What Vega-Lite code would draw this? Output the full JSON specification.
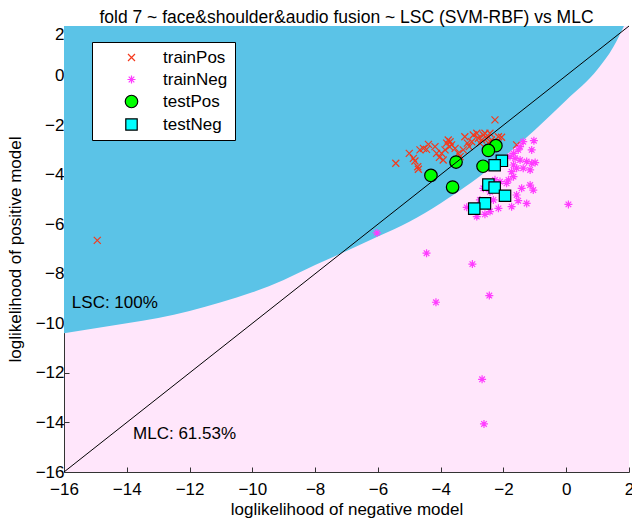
{
  "$schema": "https://vega.github.io/schema/vega-lite/v6.json",
  "width": 565,
  "height": 446,
  "autosize": {"type": "none"},
  "padding": {"left": 64, "top": 26, "right": 3, "bottom": 48},
  "title": {"text": "fold 7 ~ face&shoulder&audio fusion ~ LSC (SVM-RBF) vs MLC", "fontSize": 17.5, "fontWeight": "normal", "font": "Liberation Sans", "offset": -1, "anchor": "middle", "color": "black"},
  "config": {
    "view": {"fill": "#FFE6FB", "stroke": null},
    "font": "Liberation Sans",
    "axis": {"domainColor": "#333333", "tickColor": "#333333", "tickSize": -5, "labelFontSize": 17, "labelColor": "black", "titleFontSize": 17, "titleFontWeight": "normal", "titleColor": "black", "grid": false, "labelFont": "Liberation Sans", "titleFont": "Liberation Sans", "labelOverlap": false, "labelFlush": false},
    "axisX": {"labelPadding": 14, "titlePadding": 4},
    "axisY": {"labelPadding": 5, "titlePadding": 11},
    "legend": {"orient": "none", "legendX": 28, "legendY": 16, "fillColor": "white", "strokeColor": "black", "padding": 7, "symbolOffset": 24, "labelOffset": 23, "labelFontSize": 17, "labelFont": "Liberation Sans", "labelColor": "black", "rowPadding": 4, "symbolStrokeWidth": 1.2, "symbolOpacity": 1}
  },
  "datasets": {
    "boundary": [
      {"bx": -16, "by": -10.4}, {"bx": -15, "by": -10.2}, {"bx": -14, "by": -10.0}, {"bx": -13, "by": -9.78},
      {"bx": -12, "by": -9.5}, {"bx": -11, "by": -9.15}, {"bx": -10, "by": -8.75}, {"bx": -9, "by": -8.25},
      {"bx": -8, "by": -7.65}, {"bx": -7, "by": -7.08}, {"bx": -6, "by": -6.5}, {"bx": -5, "by": -5.9},
      {"bx": -4, "by": -5.15}, {"bx": -3, "by": -4.3}, {"bx": -2, "by": -3.3}, {"bx": -1, "by": -2.2},
      {"bx": 0, "by": -1.0}, {"bx": 1, "by": 0.25}, {"bx": 1.5, "by": 1.15}, {"bx": 1.84, "by": 2.0}
    ],
    "points": [
      {"series": "trainPos", "neg": -14.94, "pos": -6.65},
      {"series": "trainPos", "neg": -5.43, "pos": -3.54},
      {"series": "trainPos", "neg": -5.0, "pos": -3.14},
      {"series": "trainPos", "neg": -4.87, "pos": -3.34},
      {"series": "trainPos", "neg": -4.82, "pos": -3.45},
      {"series": "trainPos", "neg": -4.73, "pos": -3.68},
      {"series": "trainPos", "neg": -4.71, "pos": -3.78},
      {"series": "trainPos", "neg": -4.66, "pos": -3.0},
      {"series": "trainPos", "neg": -4.55, "pos": -2.94},
      {"series": "trainPos", "neg": -4.39, "pos": -2.78},
      {"series": "trainPos", "neg": -4.45, "pos": -2.98},
      {"series": "trainPos", "neg": -4.18, "pos": -2.87},
      {"series": "trainPos", "neg": -4.13, "pos": -3.14},
      {"series": "trainPos", "neg": -4.04, "pos": -3.3},
      {"series": "trainPos", "neg": -3.97, "pos": -3.14},
      {"series": "trainPos", "neg": -3.92, "pos": -3.41},
      {"series": "trainPos", "neg": -3.86, "pos": -3.0},
      {"series": "trainPos", "neg": -3.81, "pos": -2.73},
      {"series": "trainPos", "neg": -3.76, "pos": -2.6},
      {"series": "trainPos", "neg": -3.7, "pos": -2.67},
      {"series": "trainPos", "neg": -3.65, "pos": -2.8},
      {"series": "trainPos", "neg": -3.72, "pos": -2.87},
      {"series": "trainPos", "neg": -3.54, "pos": -2.94},
      {"series": "trainPos", "neg": -3.44, "pos": -3.14},
      {"series": "trainPos", "neg": -3.38, "pos": -3.27},
      {"series": "trainPos", "neg": -3.28, "pos": -3.0},
      {"series": "trainPos", "neg": -3.23, "pos": -2.47},
      {"series": "trainPos", "neg": -3.15, "pos": -2.73},
      {"series": "trainPos", "neg": -3.09, "pos": -2.87},
      {"series": "trainPos", "neg": -3.01, "pos": -2.67},
      {"series": "trainPos", "neg": -2.96, "pos": -2.4},
      {"series": "trainPos", "neg": -2.85, "pos": -2.33},
      {"series": "trainPos", "neg": -2.8, "pos": -2.53},
      {"series": "trainPos", "neg": -2.75, "pos": -2.73},
      {"series": "trainPos", "neg": -2.69, "pos": -2.6},
      {"series": "trainPos", "neg": -2.64, "pos": -2.4},
      {"series": "trainPos", "neg": -2.59, "pos": -2.33},
      {"series": "trainPos", "neg": -2.53, "pos": -2.53},
      {"series": "trainPos", "neg": -2.48, "pos": -2.73},
      {"series": "trainPos", "neg": -2.43, "pos": -2.33},
      {"series": "trainPos", "neg": -2.38, "pos": -2.6},
      {"series": "trainPos", "neg": -2.27, "pos": -1.79},
      {"series": "trainPos", "neg": -2.16, "pos": -2.47},
      {"series": "trainPos", "neg": -2.06, "pos": -2.49},
      {"series": "trainPos", "neg": -1.58, "pos": -2.8},
      {"series": "trainNeg", "neg": -6.03, "pos": -6.35},
      {"series": "trainNeg", "neg": -1.37, "pos": -2.67},
      {"series": "trainNeg", "neg": -1.03, "pos": -2.63},
      {"series": "trainNeg", "neg": -1.47, "pos": -2.87},
      {"series": "trainNeg", "neg": -1.1, "pos": -3.0},
      {"series": "trainNeg", "neg": -1.53, "pos": -3.0},
      {"series": "trainNeg", "neg": -1.68, "pos": -3.14},
      {"series": "trainNeg", "neg": -1.79, "pos": -3.27},
      {"series": "trainNeg", "neg": -1.63, "pos": -3.34},
      {"series": "trainNeg", "neg": -1.47, "pos": -3.41},
      {"series": "trainNeg", "neg": -1.26, "pos": -3.47},
      {"series": "trainNeg", "neg": -1.1, "pos": -3.54},
      {"series": "trainNeg", "neg": -0.99, "pos": -3.51},
      {"series": "trainNeg", "neg": -1.68, "pos": -3.61},
      {"series": "trainNeg", "neg": -1.15, "pos": -3.81},
      {"series": "trainNeg", "neg": -1.37, "pos": -3.74},
      {"series": "trainNeg", "neg": -1.58, "pos": -3.74},
      {"series": "trainNeg", "neg": -1.74, "pos": -3.88},
      {"series": "trainNeg", "neg": -1.68, "pos": -4.08},
      {"series": "trainNeg", "neg": -1.84, "pos": -4.21},
      {"series": "trainNeg", "neg": -1.9, "pos": -4.35},
      {"series": "trainNeg", "neg": -2.11, "pos": -4.28},
      {"series": "trainNeg", "neg": -2.27, "pos": -4.21},
      {"series": "trainNeg", "neg": -1.15, "pos": -4.42},
      {"series": "trainNeg", "neg": -2.64, "pos": -4.55},
      {"series": "trainNeg", "neg": -2.43, "pos": -4.69},
      {"series": "trainNeg", "neg": -2.75, "pos": -5.02},
      {"series": "trainNeg", "neg": -2.32, "pos": -5.02},
      {"series": "trainNeg", "neg": -1.58, "pos": -4.82},
      {"series": "trainNeg", "neg": -1.42, "pos": -4.55},
      {"series": "trainNeg", "neg": -1.05, "pos": -4.62},
      {"series": "trainNeg", "neg": -1.26, "pos": -5.16},
      {"series": "trainNeg", "neg": -1.53, "pos": -5.05},
      {"series": "trainNeg", "neg": -1.74, "pos": -5.29},
      {"series": "trainNeg", "neg": -2.16, "pos": -5.36},
      {"series": "trainNeg", "neg": -2.43, "pos": -5.49},
      {"series": "trainNeg", "neg": -2.59, "pos": -5.6},
      {"series": "trainNeg", "neg": -2.85, "pos": -5.69},
      {"series": "trainNeg", "neg": -3.17, "pos": -5.32},
      {"series": "trainNeg", "neg": 0.07, "pos": -5.2},
      {"series": "trainNeg", "neg": -4.45, "pos": -7.17},
      {"series": "trainNeg", "neg": -2.99, "pos": -7.61},
      {"series": "trainNeg", "neg": -2.45, "pos": -8.88},
      {"series": "trainNeg", "neg": -4.15, "pos": -9.15},
      {"series": "trainNeg", "neg": -2.68, "pos": -12.26},
      {"series": "trainNeg", "neg": -2.62, "pos": -14.06},
      {"series": "testPos", "neg": -2.24, "pos": -2.83},
      {"series": "testPos", "neg": -2.48, "pos": -3.02},
      {"series": "testPos", "neg": -3.51, "pos": -3.49},
      {"series": "testPos", "neg": -2.65, "pos": -3.66},
      {"series": "testPos", "neg": -4.31, "pos": -4.03},
      {"series": "testPos", "neg": -3.62, "pos": -4.5},
      {"series": "testNeg", "neg": -2.05, "pos": -3.44},
      {"series": "testNeg", "neg": -2.28, "pos": -3.62},
      {"series": "testNeg", "neg": -2.48, "pos": -4.4},
      {"series": "testNeg", "neg": -2.28, "pos": -4.52},
      {"series": "testNeg", "neg": -1.95, "pos": -4.85},
      {"series": "testNeg", "neg": -2.59, "pos": -5.16},
      {"series": "testNeg", "neg": -2.93, "pos": -5.37}
    ],
    "labels": [
      {"label": "LSC: 100%", "tx": -15.75, "ty": -9.38},
      {"label": "MLC: 61.53%", "tx": -13.8, "ty": -14.67}
    ]
  },
  "layer": [
    {
      "data": {"name": "boundary"},
      "mark": {"type": "area", "color": "#5BC3E7", "opacity": 1, "interpolate": "monotone"},
      "encoding": {
        "x": {"field": "bx", "type": "quantitative", "scale": {"domain": [-16, 2], "nice": false, "zero": false}, "axis": {"title": "loglikelihood of negative model", "values": [-16, -14, -12, -10, -8, -6, -4, -2, 0, 2]}},
        "y": {"field": "by", "type": "quantitative", "scale": {"domain": [-16, 2], "nice": false, "zero": false}, "axis": {"title": "loglikelihood of positive model", "values": [-16, -14, -12, -10, -8, -6, -4, -2, 0, 2], "labelOffset": {"condition": {"test": "datum.value == 2", "value": 8}, "value": 0}}},
        "y2": {"datum": 2}
      }
    },
    {
      "data": {"name": "points"},
      "mark": {"type": "point", "strokeWidth": 1.2, "opacity": 1},
      "encoding": {
        "x": {"field": "neg", "type": "quantitative"},
        "y": {"field": "pos", "type": "quantitative"},
        "shape": {"field": "series", "type": "nominal", "scale": {"domain": ["trainPos", "trainNeg", "testPos", "testNeg"], "range": ["M-1,-1L1,1M-1,1L1,-1", "M-1,0L1,0M0,-1L0,1M-0.7,-0.7L0.7,0.7M-0.7,0.7L0.7,-0.7", "circle", "square"]}, "legend": {"title": null}},
        "fill": {"field": "series", "type": "nominal", "scale": {"domain": ["trainPos", "trainNeg", "testPos", "testNeg"], "range": ["transparent", "transparent", "#00FF00", "#00FFFF"]}, "legend": {"title": null}},
        "stroke": {"field": "series", "type": "nominal", "scale": {"domain": ["trainPos", "trainNeg", "testPos", "testNeg"], "range": ["#F5391C", "#FF3CFF", "#000000", "#000000"]}, "legend": {"title": null}},
        "size": {"field": "series", "type": "ordinal", "scale": {"type": "ordinal", "domain": ["trainPos", "trainNeg", "testPos", "testNeg"], "range": [49, 64, 156, 130]}, "legend": {"title": null}}
      }
    },
    {
      "data": {"values": [{}]},
      "mark": {"type": "rule", "color": "black", "strokeWidth": 1},
      "encoding": {"x": {"datum": -16}, "y": {"datum": -16}, "x2": {"datum": 2}, "y2": {"datum": 2}}
    },
    {
      "data": {"name": "labels"},
      "mark": {"type": "text", "align": "left", "baseline": "alphabetic", "fontSize": 17, "font": "Liberation Sans", "color": "black"},
      "encoding": {
        "x": {"field": "tx", "type": "quantitative"},
        "y": {"field": "ty", "type": "quantitative"},
        "text": {"field": "label"}
      }
    }
  ]
}
